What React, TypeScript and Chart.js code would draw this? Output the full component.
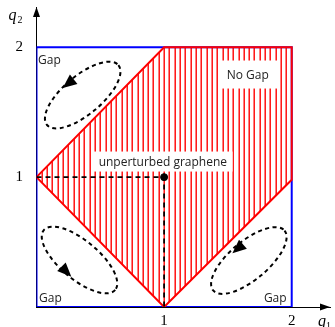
import React, { useEffect, useRef } from 'react';
import { Chart, registerables } from 'chart.js';
Chart.register(...registerables);

// ---- data (axis units) ----
const boxX = [0, 0, 2, 2, 0];
const boxY = [0, 2, 2, 0, 0];
const noGapX = [0, 1, 2, 2, 1, 0];
const noGapY = [1, 2, 2, 0.98, 0, 1];
const refX = [0, 1, 1];
const refY = [1, 1, 0];
const grapheneX = [1];
const grapheneY = [1];
const xTicks = [1, 2];
const yTicks = [1, 2];
const xMin = 0;
const xMax = 2.3;
const yMin = 0;
const yMax = 2.31;
const hatchPerUnit = 24;

const labelTexts = ['Gap', 'Gap', 'Gap', 'No Gap', 'unperturbed graphene'];
const labelX = [0.012, 0.02, 1.96, 1.655, 0.99];
const labelY = [1.871, 0.038, 0.038, 1.79, 1.12];
const labelAlign = ['left', 'left', 'right', 'center', 'center'];
const labelBoxed = [false, false, false, true, true];

const orbitCx = [0.362, 0.337, 1.664];
const orbitCy = [1.632, 0.362, 0.358];
const orbitA = [0.365, 0.365, 0.365];
const orbitB = [0.151, 0.151, 0.151];
const orbitRot = [40, -40, 40];
const arrowTipX = [0.206, 0.273, 1.535];
const arrowTipY = [1.686, 0.233, 0.413];
const arrowDir = [219, -45, 221];

const xy = (xs: number[], ys: number[]) => xs.map((x, i) => ({ x, y: ys[i] }));

// ---- styles ----
const RED = '#ff0000';
const BLUE = '#0000ff';
const SANS = '"Open Sans", "DejaVu Sans", sans-serif';
const SERIF = '"Liberation Serif", "DejaVu Serif", serif';
const boxPad = [
  { x: 0, h: 0 },
  { x: 0, h: 0 },
  { x: 0, h: 0 },
  { x: 8.5, h: 28 },
  { x: 5.5, h: 20 },
];

const noPad = (s: any) => {
  s.paddingTop = 0;
  s.paddingBottom = 0;
  s.paddingLeft = 0;
  s.paddingRight = 0;
};

const hatchPlugin = {
  id: 'hatch',
  beforeDatasetsDraw(chart: any) {
    const { ctx, chartArea } = chart;
    const xs = chart.scales.x;
    const ys = chart.scales.y;
    ctx.save();
    ctx.beginPath();
    noGapX.forEach((v, i) => {
      const px = xs.getPixelForValue(v);
      const py = ys.getPixelForValue(noGapY[i]);
      if (i === 0) ctx.moveTo(px, py);
      else ctx.lineTo(px, py);
    });
    ctx.closePath();
    ctx.clip();
    ctx.strokeStyle = RED;
    ctx.lineWidth = 1.4;
    const lo = Math.min(...noGapX);
    const hi = Math.max(...noGapX);
    for (let k = Math.round(lo * hatchPerUnit); k <= Math.round(hi * hatchPerUnit); k++) {
      const px = Math.round(xs.getPixelForValue(k / hatchPerUnit)) + 0.2;
      ctx.beginPath();
      ctx.moveTo(px, chartArea.top);
      ctx.lineTo(px, chartArea.bottom);
      ctx.stroke();
    }
    ctx.restore();
  },
};

const overlayPlugin = {
  id: 'overlay',
  afterDatasetsDraw(chart: any) {
    const { ctx, chartArea } = chart;
    const xs = chart.scales.x;
    const ys = chart.scales.y;
    const ppu = xs.getPixelForValue(1) - xs.getPixelForValue(0);
    ctx.save();
    // orbits
    ctx.strokeStyle = '#000';
    ctx.lineWidth = 2;
    ctx.setLineDash([4, 3.5]);
    orbitCx.forEach((cx, i) => {
      ctx.beginPath();
      ctx.ellipse(
        xs.getPixelForValue(cx),
        ys.getPixelForValue(orbitCy[i]),
        orbitA[i] * ppu,
        orbitB[i] * ppu,
        (-orbitRot[i] * Math.PI) / 180,
        0,
        Math.PI * 2
      );
      ctx.stroke();
    });
    ctx.setLineDash([]);
    // orbit arrows
    ctx.fillStyle = '#000';
    arrowTipX.forEach((ax, i) => {
      const tx = xs.getPixelForValue(ax);
      const ty = ys.getPixelForValue(arrowTipY[i]);
      const d = (arrowDir[i] * Math.PI) / 180;
      const dx = Math.cos(d);
      const dy = -Math.sin(d);
      const L = 14;
      const W = 6;
      const bx = tx - dx * L;
      const by = ty - dy * L;
      ctx.beginPath();
      ctx.moveTo(tx, ty);
      ctx.lineTo(bx - dy * W, by + dx * W);
      ctx.lineTo(bx + dy * W, by - dx * W);
      ctx.closePath();
      ctx.fill();
    });
    // text labels
    ctx.font = `12px ${SANS}`;
    labelTexts.forEach((t, i) => {
      const px = xs.getPixelForValue(labelX[i]);
      const py = ys.getPixelForValue(labelY[i]);
      const w = ctx.measureText(t).width;
      if (labelBoxed[i]) {
        const p = boxPad[i];
        const bw = w + 2 * p.x;
        ctx.fillStyle = '#fff';
        ctx.fillRect(px - bw / 2, py - p.h / 2, bw, p.h);
        ctx.fillStyle = '#222';
        ctx.textAlign = 'center';
        ctx.textBaseline = 'middle';
        ctx.fillText(t, px, py + 1);
      } else {
        ctx.fillStyle = '#222';
        ctx.textAlign = labelAlign[i] as CanvasTextAlign;
        ctx.textBaseline = 'alphabetic';
        ctx.fillText(t, px, py);
      }
    });
    // axis arrowheads
    const ox = xs.getPixelForValue(0);
    const oy = ys.getPixelForValue(0);
    ctx.fillStyle = '#000';
    ctx.beginPath();
    ctx.moveTo(chartArea.right, oy);
    ctx.lineTo(chartArea.right - 10, oy - 3.5);
    ctx.lineTo(chartArea.right - 10, oy + 3.5);
    ctx.closePath();
    ctx.fill();
    ctx.beginPath();
    ctx.moveTo(ox, chartArea.top);
    ctx.lineTo(ox - 3.5, chartArea.top + 10);
    ctx.lineTo(ox + 3.5, chartArea.top + 10);
    ctx.closePath();
    ctx.fill();
    // axis titles
    ctx.textAlign = 'left';
    ctx.textBaseline = 'alphabetic';
    ctx.font = `italic 16px ${SERIF}`;
    ctx.fillText('q', ox - 28, chartArea.top + 13);
    ctx.font = `10px ${SERIF}`;
    ctx.fillText('2', ox - 19, chartArea.top + 16);
    ctx.font = `italic 16px ${SERIF}`;
    ctx.fillText('q', chartArea.right - 12, oy + 19);
    ctx.font = `10px ${SERIF}`;
    ctx.fillText('1', chartArea.right - 4, oy + 22);
    ctx.restore();
  },
};

export default function App() {
  const ref = useRef<HTMLCanvasElement | null>(null);
  useEffect(() => {
    if (!ref.current) return;
    const chart = new Chart(ref.current, {
      type: 'scatter',
      data: {
        datasets: [
          {
            data: xy(boxX, boxY),
            showLine: true,
            borderColor: BLUE,
            borderWidth: 2,
            pointRadius: 0,
            fill: false,
            order: 3,
          },
          {
            data: xy(noGapX, noGapY),
            showLine: true,
            borderColor: RED,
            borderWidth: 2,
            borderJoinStyle: 'miter',
            pointRadius: 0,
            fill: false,
            order: 2,
          },
          {
            data: xy(refX, refY),
            showLine: true,
            borderColor: '#000',
            borderWidth: 1.8,
            borderDash: [5, 4],
            pointRadius: 0,
            fill: false,
            order: 1,
          },
          {
            data: xy(grapheneX, grapheneY),
            showLine: false,
            pointRadius: 3.5,
            pointBackgroundColor: '#000',
            pointBorderColor: '#000',
            order: 0,
          },
        ] as any,
      },
      options: {
        animation: false,
        responsive: false,
        maintainAspectRatio: false,
        layout: { padding: { top: 7, right: 2, left: 0, bottom: 0 } },
        plugins: { legend: { display: false }, tooltip: { enabled: false } },
        scales: {
          x: {
            type: 'linear',
            min: xMin,
            max: xMax,
            grid: { display: false, drawTicks: false },
            border: { display: true, color: '#000', width: 1 },
            ticks: { color: '#000', font: { family: SERIF, size: 15 }, padding: 5 },
            afterBuildTicks: (s: any) => {
              s.ticks = xTicks.map((v) => ({ value: v }));
            },
            afterFit: (s: any) => {
              s.height = 20;
              noPad(s);
            },
          },
          y: {
            type: 'linear',
            min: yMin,
            max: yMax,
            grid: { display: false, drawTicks: false },
            border: { display: true, color: '#000', width: 1 },
            ticks: { color: '#000', font: { family: SERIF, size: 15 }, padding: 13.5 },
            afterBuildTicks: (s: any) => {
              s.ticks = yTicks.map((v) => ({ value: v }));
            },
            afterFit: (s: any) => {
              s.width = 36.5;
              noPad(s);
            },
          },
        },
      } as any,
      plugins: [hatchPlugin, overlayPlugin],
    });
    return () => chart.destroy();
  }, []);
  return (
    <div style={{ position: 'absolute', left: 0, top: 0, width: 335, height: 327, background: '#fff' }}>
      <canvas ref={ref} width={335} height={327} style={{ display: 'block' }} />
    </div>
  );
}
